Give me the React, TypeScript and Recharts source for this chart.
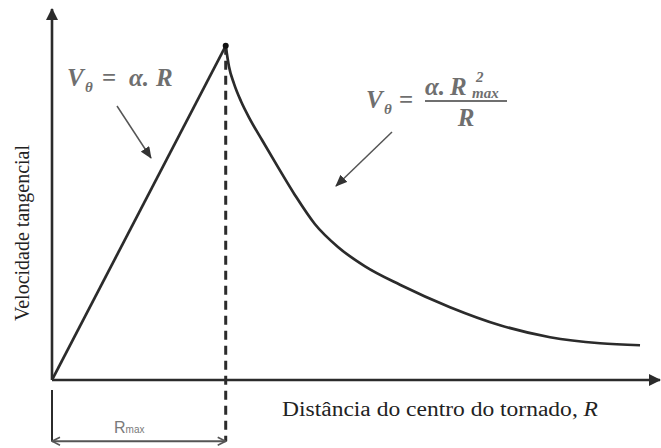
import React from 'react';
import { LineChart, Line, XAxis, YAxis, ReferenceLine, ReferenceDot } from 'recharts';

// Tangential velocity of a tornado vortex, R in units of Rmax, V in units of Vmax
const risingR = [0, 1];
const risingV = [0, 1];
const decayR = [1.0, 1.019, 1.048, 1.088, 1.14, 1.209, 1.295, 1.399, 1.514, 1.646, 1.802, 2.003, 2.291, 2.579, 2.867, 3.155, 3.385];
const decayV = [1.0, 0.937, 0.886, 0.834, 0.78, 0.718, 0.642, 0.553, 0.466, 0.398, 0.34, 0.285, 0.218, 0.164, 0.128, 0.11, 0.104];

const rMax = 1;
const vPeak = 1;
const dimensionLevel = -0.183;
const dimensionTickTop = -0.03;

const rising = risingR.map((r, i) => ({ r, v: risingV[i] }));
const decay = decayR.map((r, i) => ({ r, v: decayV[i] }));

const INK = '#2b2b2b';
const NOTE = '#6f6f6f';
const SERIF = '"Liberation Serif", "DejaVu Serif", serif';

const noteText = {
  fontFamily: SERIF,
  fontStyle: 'italic',
  fontWeight: 'bold',
  fill: NOTE,
} as const;

export default function App() {
  return (
    <div style={{ position: 'absolute', left: 0, top: 0, width: 661, height: 448, background: '#fff' }}>
      <svg width={0} height={0} style={{ position: 'absolute' }}>
        <defs>
          <marker id="axisHead" viewBox="0 0 12 12" refX="11" refY="6" markerWidth="12" markerHeight="12"
            markerUnits="userSpaceOnUse" orient="auto-start-reverse">
            <path d="M0,0 L12,6 L0,12 Z" fill={INK} />
          </marker>
          <marker id="openHead" viewBox="0 0 10 10" refX="9" refY="5" markerWidth="10" markerHeight="10"
            markerUnits="userSpaceOnUse" orient="auto-start-reverse">
            <path d="M1,1 L9,5 L1,9" fill="none" stroke="#555" strokeWidth="1.6" />
          </marker>
          <marker id="noteHead" viewBox="0 0 12 10" refX="11" refY="5" markerWidth="12" markerHeight="10"
            markerUnits="userSpaceOnUse" orient="auto">
            <path d="M0,0 L12,5 L0,10 Z" fill="#333" />
          </marker>
        </defs>
      </svg>

      <LineChart width={661} height={448} margin={{ top: 9, right: 1, bottom: 0, left: 0 }}>
        <XAxis type="number" dataKey="r" domain={[0, 3.5]} height={68} tick={false} tickLine={false}
          allowDataOverflow axisLine={{ stroke: INK, strokeWidth: 2.6, markerEnd: 'url(#axisHead)' }} />
        <YAxis type="number" dataKey="v" domain={[0, 1.11]} width={52} tick={false} tickLine={false}
          allowDataOverflow axisLine={{ stroke: INK, strokeWidth: 2.6, markerStart: 'url(#axisHead)' }} />

        {/* Rmax marker and dimension line under the axis */}
        <ReferenceLine segment={[{ x: rMax, y: vPeak }, { x: rMax, y: dimensionLevel }]} stroke={INK}
          strokeWidth={3} strokeDasharray="9 6" ifOverflow="visible" />
        <ReferenceLine segment={[{ x: 0, y: dimensionTickTop }, { x: 0, y: dimensionLevel }]} stroke={INK}
          strokeWidth={2} ifOverflow="visible" />
        <ReferenceLine segment={[{ x: 0, y: dimensionLevel }, { x: rMax, y: dimensionLevel }]} stroke="#555"
          strokeWidth={2} ifOverflow="visible" markerStart="url(#openHead)" markerEnd="url(#openHead)" />

        <Line data={rising} dataKey="v" type="linear" stroke={INK} strokeWidth={2.7} dot={false}
          isAnimationActive={false} />
        <Line data={decay} dataKey="v" type="monotone" stroke={INK} strokeWidth={2.7} dot={false}
          isAnimationActive={false} />
        <ReferenceDot x={rMax} y={vPeak} r={3} fill="#111" stroke="none" ifOverflow="visible" />
      </LineChart>

      <svg width={661} height={448} style={{ position: 'absolute', left: 0, top: 0, pointerEvents: 'none' }}>
        <text transform="translate(29,233) rotate(-90)" textAnchor="middle" fontFamily={SERIF} fontSize={20}
          fill="#222">Velocidade tangencial</text>
        <text x={282} y={416} fontFamily={SERIF} fontSize={20} fill="#222" textLength={316}
          lengthAdjust="spacingAndGlyphs">
          Distância do centro do tornado, <tspan fontStyle="italic">R</tspan>
        </text>

        <text x={114} y={433} fontFamily='"Liberation Sans", sans-serif' fontSize={16} fill="#7a7a7a">
          R<tspan fontSize={10}>max</tspan>
        </text>

        {/* V = alpha.R */}
        <text x={67} y={86} fontSize={25} {...noteText}>V</text>
        <text x={85} y={92} fontSize={15} {...noteText}>θ</text>
        <text x={102} y={86} fontSize={25} {...noteText} fontStyle="normal">=</text>
        <text x={129} y={86} fontSize={25} {...noteText}>α.</text>
        <text x={156} y={86} fontSize={25} {...noteText}>R</text>
        <line x1={117} y1={106} x2={151} y2={158} stroke="#555" strokeWidth={1.5} markerEnd="url(#noteHead)" />

        {/* V = alpha.Rmax^2 / R */}
        <text x={366} y={108} fontSize={25} {...noteText}>V</text>
        <text x={384} y={114} fontSize={15} {...noteText}>θ</text>
        <text x={399} y={108} fontSize={25} {...noteText} fontStyle="normal">=</text>
        <text x={425} y={95} fontSize={25} {...noteText}>α.</text>
        <text x={450} y={95} fontSize={25} {...noteText}>R</text>
        <text x={476} y={82} fontSize={15} {...noteText}>2</text>
        <text x={472} y={98} fontSize={15} {...noteText}>max</text>
        <line x1={425} y1={101} x2={507} y2={101} stroke={NOTE} strokeWidth={2.2} />
        <text x={466} y={126} textAnchor="middle" fontSize={25} {...noteText}>R</text>
        <line x1={392} y1={132} x2={336} y2={186} stroke="#555" strokeWidth={1.5} markerEnd="url(#noteHead)" />
      </svg>
    </div>
  );
}
